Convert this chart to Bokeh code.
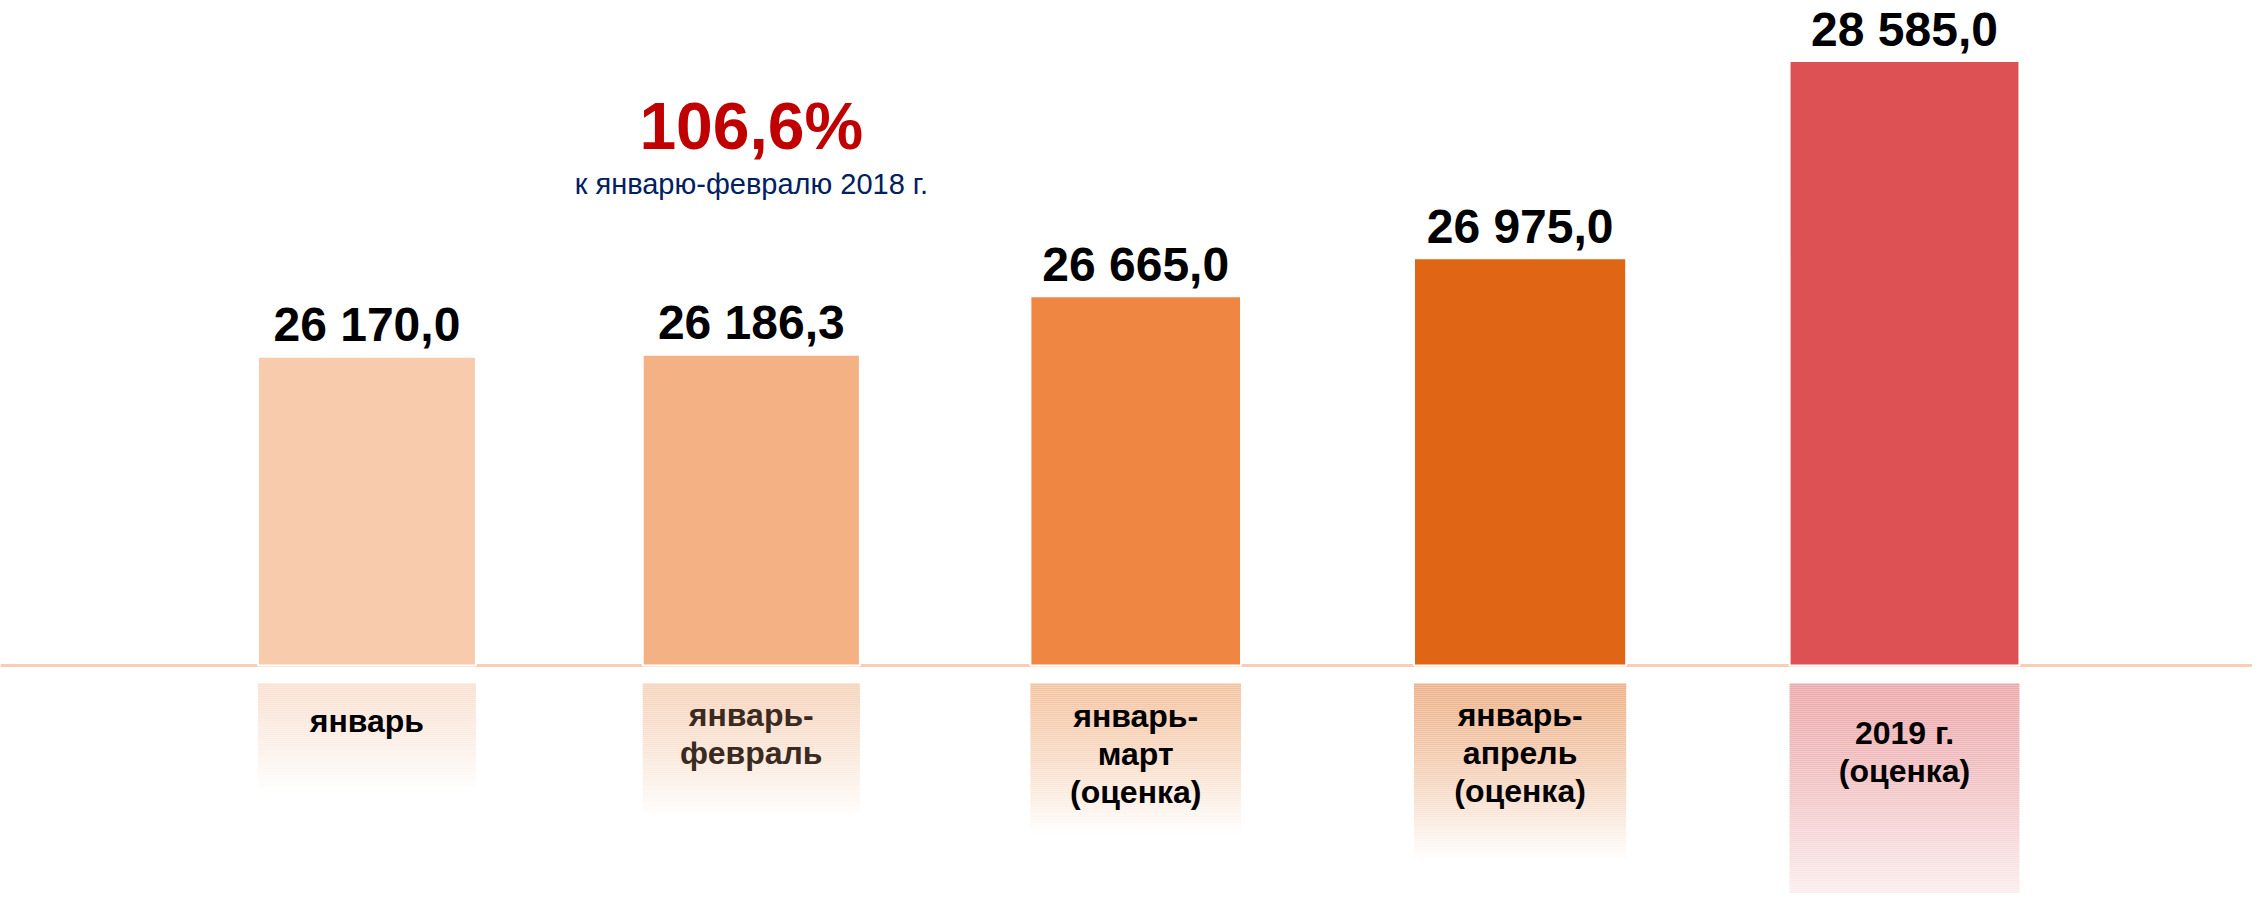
from bokeh.plotting import figure
from bokeh.models import ColumnDataSource, Range1d, Span
from bokeh.core.properties import value
from bokeh.embed import file_html
from bokeh.resources import INLINE

# ---------------- data ----------------
categories = ["январь", "январь-февраль", "январь-март (оценка)",
              "январь-апрель (оценка)", "2019 г. (оценка)"]
tick_labels = ["январь", "январь-\nфевраль", "январь-\nмарт\n(оценка)",
               "январь-\nапрель\n(оценка)", "2019 г.\n(оценка)"]
values = [26170.0, 26186.3, 26665.0, 26975.0, 28585.0]
growth_text = "106,6%"
growth_note = "к январю-февралю 2018 г."

# ---------------- styles / layout ----------------
W, H = 2252, 893
bar_colors = ["#F8CBAD", "#F4B183", "#EF8641", "#E06515", "#DD5155"]
box_colors = ["#F9E1D2", "#F6D4BC", "#F4C3A0", "#EDB289", "#ECA9AB"]
label_colors = ["#000000", "#3A2A20", "#000000", "#000000", "#000000"]
bar_widths = [0.567, 0.565, 0.548, 0.552, 0.598]
box_top_px = 683
box_heights_px = [108, 134, 150, 176, 250]
label_top_px = [702, 696, 697, 696, 714]
X_START, X_END = -0.9532, 4.9053
Y_START, Y_END = 21789, 29079
BASE = 23650
FONT = "Liberation Sans"


def fmt(v):
    return f"{v:,.1f}".replace(",", " ").replace(".", ",")


def mix(c, t):
    r, g, b = int(c[1:3], 16), int(c[3:5], 16), int(c[5:7], 16)
    r = round(r + (255 - r) * t)
    g = round(g + (255 - g) * t)
    b = round(b + (255 - b) * t)
    return f"#{r:02x}{g:02x}{b:02x}"


xpos = list(range(len(categories)))

p = figure(width=W, height=H, x_range=Range1d(X_START, X_END),
           y_range=Range1d(Y_START, Y_END), output_backend="svg",
           toolbar_location=None, min_border=0, background_fill_color="white",
           border_fill_color="white", outline_line_color=None)
p.extra_y_ranges = {"px": Range1d(start=H, end=0)}
p.axis.visible = False
p.grid.visible = False

# baseline
p.add_layout(Span(location=BASE, dimension="width", line_color="#F8CDB1",
                  line_width=3, level="underlay"))

# bars
src = ColumnDataSource(dict(x=xpos, cat=categories, top=values, color=bar_colors,
                            w=bar_widths, lab=[fmt(v) for v in values]))
p.vbar(x="x", top="top", bottom=BASE, width="w", source=src,
       fill_color="color", line_color="white", line_width=2)

# value labels
p.text(x="x", y="top", text="lab", source=src, text_align="center",
       text_baseline="alphabetic", y_offset=-32, text_font=value(FONT),
       text_font_style="bold", text_font_size="48px", text_color="black")

# gradient label boxes
gx, gt, gb, gc, gw = [], [], [], [], []
STEP = 2
for xi, col, h, w in zip(xpos, box_colors, box_heights_px, bar_widths):
    n = h // STEP
    for j in range(n):
        gx.append(xi)
        gw.append(w)
        gt.append(box_top_px + j * STEP)
        gb.append(box_top_px + (j + 1) * STEP)
        gc.append(mix(col, ((j + 0.5) / n) ** 1.3))
p.vbar(x=gx, top=gt, bottom=gb, width=gw, fill_color=gc, line_color=None,
       y_range_name="px")

# category labels
p.text(x=xpos, y=label_top_px, text=tick_labels, y_range_name="px",
       text_align="center", text_baseline="top", text_font=value(FONT),
       text_font_style="bold", text_font_size="32px", text_line_height=1.06,
       text_color=label_colors)

# growth annotation
p.text(x=[xpos[1]], y=[125], text=[growth_text], y_range_name="px",
       text_align="center", text_baseline="alphabetic", text_font=value(FONT),
       text_font_style="bold", text_font_size="66px", text_color="#C00000")
p.text(x=[xpos[1]], y=[183], text=[growth_note], y_range_name="px",
       text_align="center", text_baseline="alphabetic", text_font=value(FONT),
       text_font_size="29px", text_color="#002060")

open("out.html", "w").write(file_html(p, INLINE))
